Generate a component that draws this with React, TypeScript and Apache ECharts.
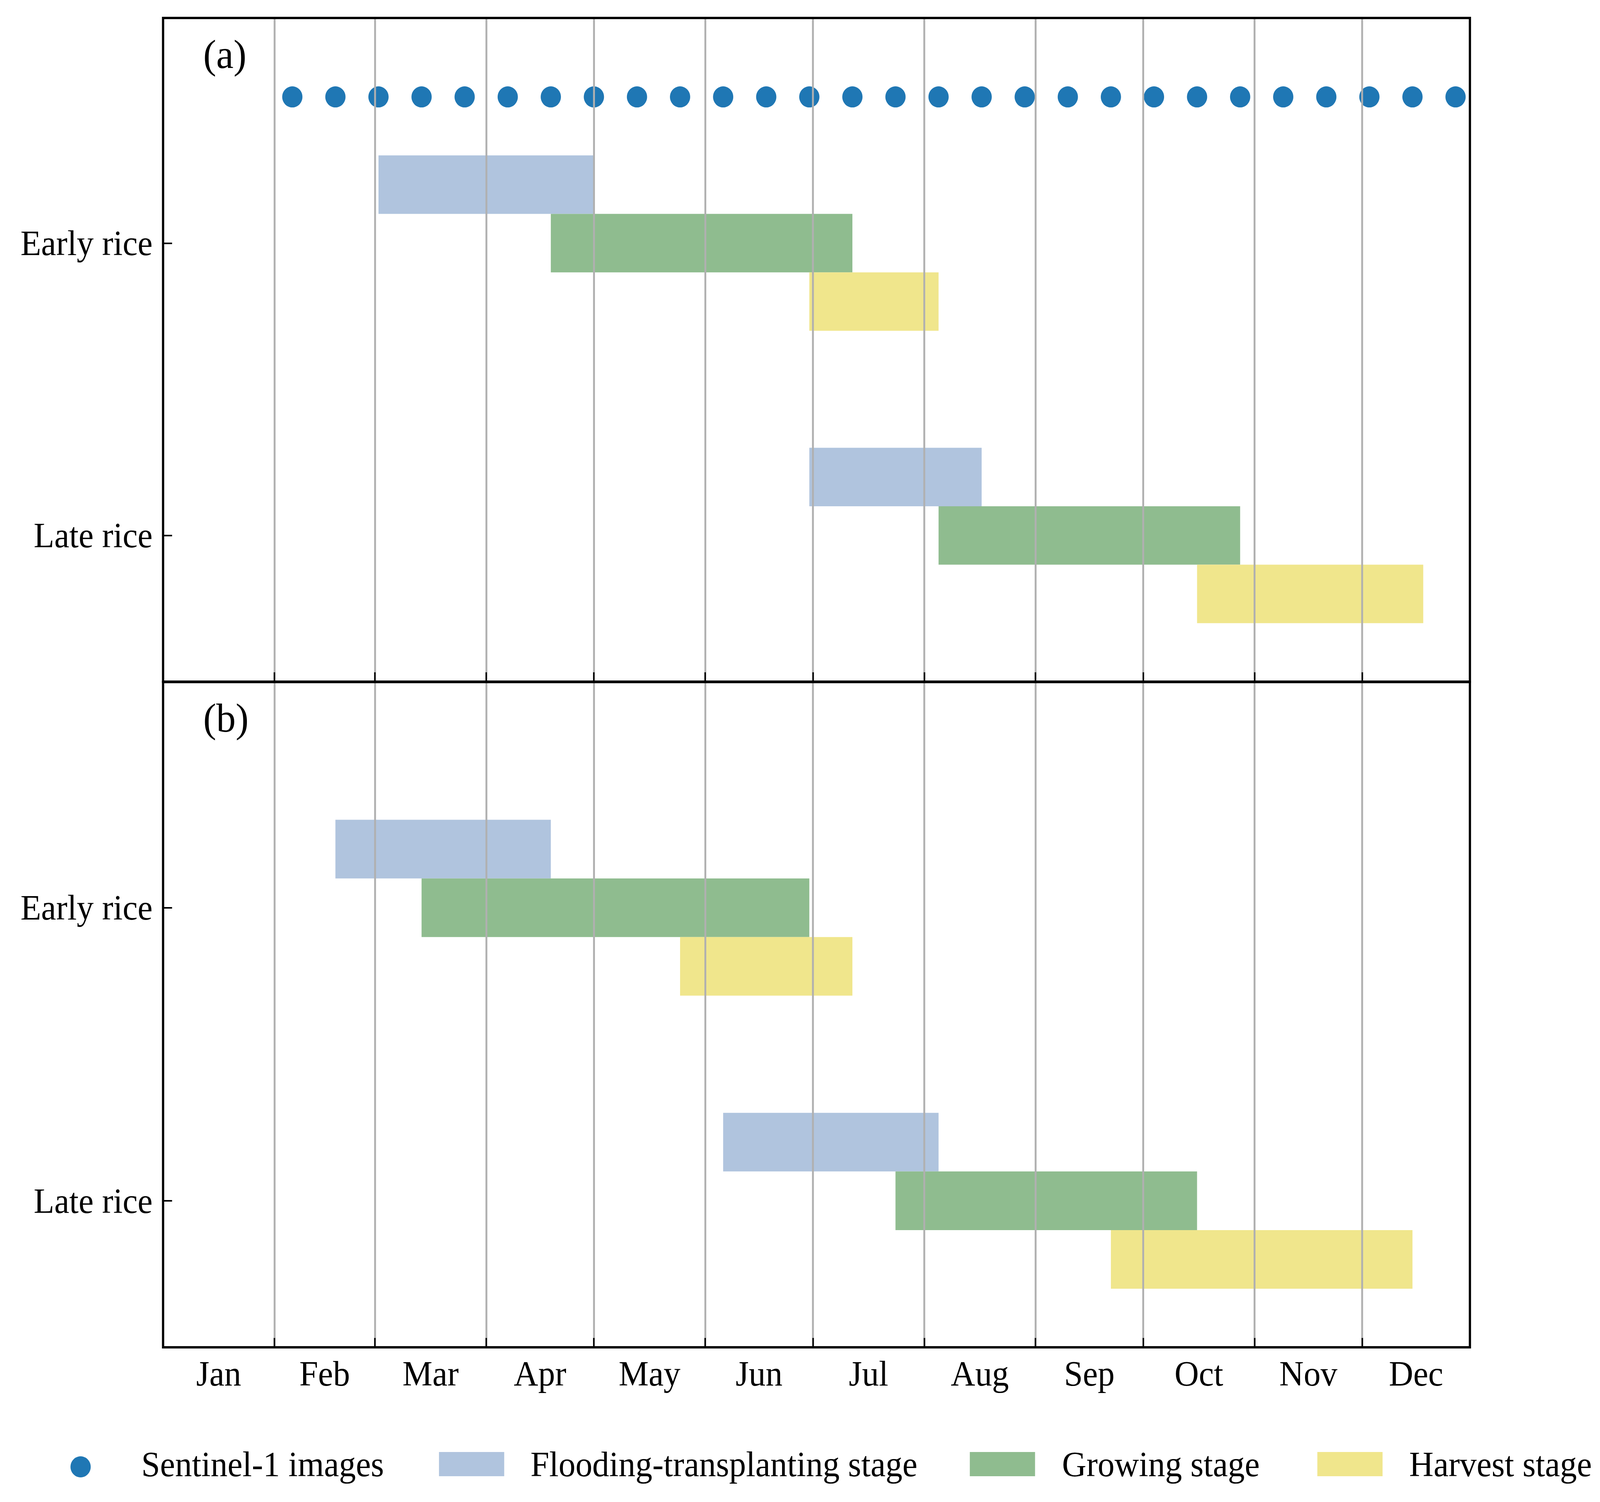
import React, { useEffect, useRef } from "react";
import * as echarts from "echarts";

// ---------------- data ----------------
const MONTHS = ["Jan", "Feb", "Mar", "Apr", "May", "Jun", "Jul", "Aug", "Sep", "Oct", "Nov", "Dec"];
// day-of-year on which each month starts (non-leap year)
const MONTH_STARTS = [1, 32, 60, 91, 121, 152, 182, 213, 244, 274, 305, 335];
const YEAR_END = 365;

const CROPS = ["Late rice", "Early rice"]; // y value 0, 1
const CROP_Y = [1, 0]; // early rice, late rice

const STAGES = ["Flooding-transplanting stage", "Growing stage", "Harvest stage"];
const STAGE_COLORS = ["#b0c4de", "#8fbc8f", "#f0e68c"];

// Sentinel-1 acquisition dates (day of year)
const SENTINEL_DAYS = [37, 49, 61, 73, 85, 97, 109, 121, 133, 145, 157, 169, 181, 193, 205, 217, 229, 241, 253, 265, 277, 289, 301, 313, 325, 337, 349, 361];
const SENTINEL_NAME = "Sentinel-1 images";
const SENTINEL_COLOR = "#1f77b4";

// panel (a): [start, end] day of year, rows = [early rice, late rice]
const A_FLOODING = [[61, 121], [181, 229]];
const A_GROWING = [[109, 193], [217, 301]];
const A_HARVEST = [[181, 217], [289, 352]];

// panel (b)
const B_FLOODING = [[49, 109], [157, 217]];
const B_GROWING = [[73, 181], [205, 289]];
const B_HARVEST = [[145, 193], [265, 349]];

const PANEL_LABELS = ["(a)", "(b)"];

// ---------------- layout ----------------
const W = 4268;
const H = 3845;
const FONT = '"Liberation Serif", "Times New Roman", serif';
const GRIDS = [
  { left: 435, top: 46, width: 3486, height: 1699 },
  { left: 435, top: 1746, width: 3486, height: 1703 },
];
const Y_MIN = -0.5;
const Y_MAX = 1.77;
const BAR_H = 0.2;
const STAGE_OFFSET = [0.2, 0, -0.2];
const DOT_Y = 1.5;

const MONTH_MIDS = MONTH_STARTS.map((s, i) => (s + (i + 1 < MONTH_STARTS.length ? MONTH_STARTS[i + 1] : YEAR_END)) / 2);
const INNER_STARTS = MONTH_STARTS.slice(1);

function monthLabel(v: number) {
  const i = MONTH_MIDS.findIndex((m) => Math.abs(m - v) < 0.01);
  return i >= 0 ? MONTHS[i] : "";
}

function buildOption() {
  const xAxes: any[] = [];
  const yAxes: any[] = [];
  GRIDS.forEach((_, g) => {
    xAxes.push({
      type: "value",
      gridIndex: g,
      position: "bottom",
      min: 1,
      max: YEAR_END,
      z: 6,
      axisLine: { show: false, onZero: false },
      axisTick: { show: true, inside: true, length: 24, customValues: INNER_STARTS, lineStyle: { color: "#000", width: 4 } },
      axisLabel: {
        show: g === 1,
        customValues: MONTH_MIDS,
        margin: 22,
        fontSize: 90,
        fontFamily: FONT,
        color: "#000",
        formatter: (v: number) => monthLabel(v),
      },
      splitLine: { show: false },
    });
    xAxes.push({
      type: "value",
      gridIndex: g,
      position: "top",
      min: 1,
      max: YEAR_END,
      z: 5,
      axisLine: { show: false, onZero: false },
      axisTick: { show: false, customValues: INNER_STARTS },
      axisLabel: { show: false, customValues: INNER_STARTS },
      splitLine: { show: true, lineStyle: { color: "#b0b0b0", width: 5 } },
    });
    yAxes.push({
      type: "value",
      gridIndex: g,
      min: Y_MIN,
      max: Y_MAX,
      axisLine: { show: false, onZero: false },
      axisTick: { show: true, inside: true, length: 24, customValues: [0, 1], lineStyle: { color: "#000", width: 4 } },
      axisLabel: {
        customValues: [0, 1],
        margin: 28,
        fontSize: 90,
        fontFamily: FONT,
        color: "#000",
        formatter: (v: number) => CROPS[Math.round(v)] || "",
      },
      splitLine: { show: false },
    });
  });

  const panels = [
    [A_FLOODING, A_GROWING, A_HARVEST],
    [B_FLOODING, B_GROWING, B_HARVEST],
  ];

  const series: any[] = [];
  series.push({
    type: "scatter",
    name: SENTINEL_NAME,
    xAxisIndex: 0,
    yAxisIndex: 0,
    symbol: "circle",
    symbolSize: 54,
    itemStyle: { color: SENTINEL_COLOR, opacity: 1 },
    data: SENTINEL_DAYS.map((d) => [d, DOT_Y]),
    z: 2,
  });

  panels.forEach((stages, p) => {
    stages.forEach((rows, k) => {
      series.push({
        type: "custom",
        name: STAGES[k],
        xAxisIndex: p * 2,
        yAxisIndex: p,
        encode: { x: [0, 1], y: 2 },
        data: rows.map((r, c) => [r[0], r[1], CROP_Y[c] + STAGE_OFFSET[k]]),
        renderItem: (_params: any, api: any) => {
          const s = api.value(0);
          const e = api.value(1);
          const y = api.value(2);
          const p0 = api.coord([s, y + BAR_H / 2]);
          const p1 = api.coord([e, y - BAR_H / 2]);
          return {
            type: "rect",
            shape: { x: p0[0], y: p0[1], width: p1[0] - p0[0], height: p1[1] - p0[1] },
            style: { fill: STAGE_COLORS[k] },
          };
        },
        z: 2,
      });
    });
  });

  const graphic: any[] = [];
  GRIDS.forEach((g, i) => {
    graphic.push({
      type: "rect",
      shape: { x: g.left, y: g.top, width: g.width, height: g.height },
      style: { fill: "none", stroke: "#000", lineWidth: 6 },
      z: 100,
      silent: true,
    });
    graphic.push({
      type: "text",
      x: 542,
      y: g.top + (i === 0 ? 93 : 92),
      style: { text: PANEL_LABELS[i], fontSize: 104, fontFamily: FONT, fill: "#000", textAlign: "left", textVerticalAlign: "middle" },
      z: 100,
    });
  });

  // legend
  const LEG_Y = 3748;
  graphic.push({ type: "circle", shape: { cx: 215, cy: 3755, r: 27 }, style: { fill: SENTINEL_COLOR }, z: 100 });
  graphic.push({
    type: "text",
    x: 377,
    y: LEG_Y,
    style: { text: SENTINEL_NAME, fontSize: 90, fontFamily: FONT, fill: "#000", textAlign: "left", textVerticalAlign: "middle" },
    z: 100,
  });
  const rectX = [1171, 2587, 3514];
  const textX = [1415, 2833, 3759];
  STAGES.forEach((name, k) => {
    graphic.push({
      type: "rect",
      shape: { x: rectX[k], y: 3717, width: 174, height: 62 },
      style: { fill: STAGE_COLORS[k] },
      z: 100,
    });
    graphic.push({
      type: "text",
      x: textX[k],
      y: LEG_Y,
      style: { text: name, fontSize: 90, fontFamily: FONT, fill: "#000", textAlign: "left", textVerticalAlign: "middle" },
      z: 100,
    });
  });

  return {
    animation: false,
    backgroundColor: "#fff",
    textStyle: { fontFamily: FONT },
    grid: GRIDS.map((g) => ({ ...g, containLabel: false, outerBoundsMode: "none" })),
    xAxis: xAxes,
    yAxis: yAxes,
    series,
    graphic,
  };
}

export default function App() {
  const ref = useRef<HTMLDivElement>(null);
  // the browser's viewport can be narrower than the requested size, so fit the drawing to it
  const vw = (typeof window !== "undefined" && (document.documentElement.clientWidth || window.innerWidth)) || W;
  const vh = (typeof window !== "undefined" && (document.documentElement.clientHeight || window.innerHeight)) || H;
  const sx = vw / W;
  const sy = vh / H;
  useEffect(() => {
    if (!ref.current) return;
    const chart = echarts.init(ref.current, undefined, { renderer: "svg", width: W, height: H });
    chart.setOption(buildOption() as any);
    return () => chart.dispose();
  }, []);
  return (
    <div style={{ position: "fixed", left: 0, top: 0, width: vw, height: vh, overflow: "hidden", background: "#fff" }}>
      <div
        ref={ref}
        style={{ width: W, height: H, transform: `scale(${sx}, ${sy})`, transformOrigin: "0 0", background: "#fff" }}
      />
    </div>
  );
}
